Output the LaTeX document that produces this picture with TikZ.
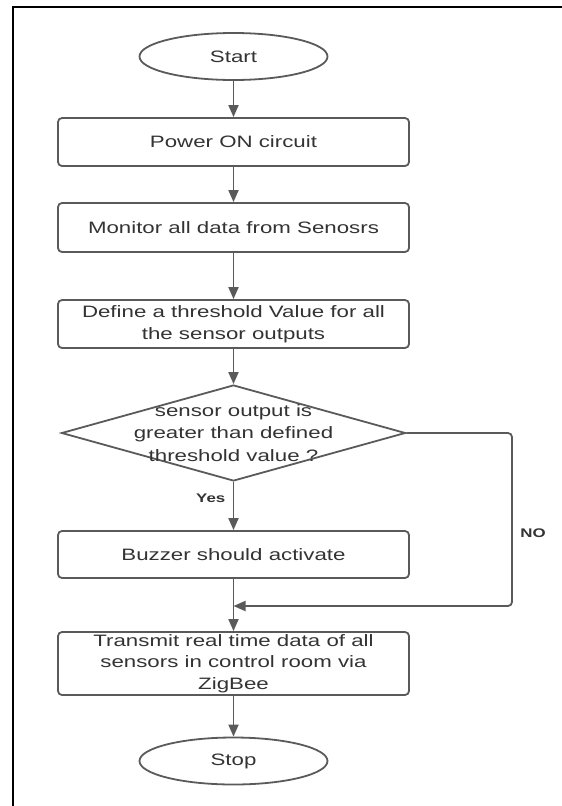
\documentclass[tikz,border=0pt]{standalone}
\usepackage{fontspec}
\setmainfont{Liberation Sans}[FakeStretch=1.35]
\usetikzlibrary{shapes.geometric,arrows.meta}
\definecolor{flowline}{HTML}{5A5A5A}
\definecolor{flowtext}{HTML}{333333}
\tikzset{
  base/.style={draw=flowline, line width=1.8pt, text=flowtext, inner sep=0pt,
    font=\fontsize{16.5}{21.5}\selectfont, align=center},
  terminal/.style={base, ellipse, minimum width=188pt, minimum height=47pt},
  process/.style={base, rectangle, rounded corners=4pt, minimum width=351pt},
  decision/.style={base, diamond, minimum width=344pt, minimum height=96pt},
  flow/.style={draw=flowline, line width=1.8pt,
    -{Triangle[length=12pt,width=10pt]}},
  branch/.style={text=flowtext, font=\fontsize{12.5}{15}\selectfont\bfseries}
}
\begin{document}
\begin{tikzpicture}[x=1pt,y=-1pt]
\useasboundingbox (0,0) rectangle (562,806);
% frame
\draw[line width=2.2pt, black] (13,806) -- (13,7) -- (562,7);

\node[terminal] (start) at (233.5,56.5) {Start};
\node[process, minimum height=48pt] (power) at (233.5,142) {Power ON circuit};
\node[process, minimum height=49pt] (monitor) at (233.5,227.5) {Monitor all data from Senosrs};
\node[process, minimum height=48pt] (define) at (233.5,324)
  {Define a threshold Value for all\\the sensor outputs};
\node[decision] (check) at (233.5,433) {};
\node[text=flowtext, font=\fontsize{16.5}{22.5}\selectfont, align=center] (checktext) at (233.5,433)
  {sensor output is\\greater than defined\\threshold value ?};
\node[process, minimum height=47pt] (buzzer) at (233.5,554.5) {Buzzer should activate};
\node[process, minimum height=63pt] (transmit) at (233.5,663.5)
  {Transmit real time data of all\\sensors in control room via\\ZigBee};
\node[terminal] (stop) at (233.5,761) {Stop};

\coordinate (join) at (233.5,606);
\coordinate (loop) at (512,433);

\draw[flow] (start) -- (power);
\draw[flow] (power) -- (monitor);
\draw[flow] (monitor) -- (define);
\draw[flow] (define) -- (check);
\draw[flow] (check) -- node[branch, left=4pt, pos=0.34] (yes) {Yes} (buzzer);
\draw[draw=flowline, line width=1.8pt] (buzzer) -- (join);
\draw[flow] (join) -- (transmit);
\draw[flow, rounded corners=4pt] (check.east) -- (loop) -- (loop |- join) -- (join);
\node[branch] (no) at (533,533) {NO};
\draw[flow] (transmit) -- (stop);
\end{tikzpicture}
\end{document}
